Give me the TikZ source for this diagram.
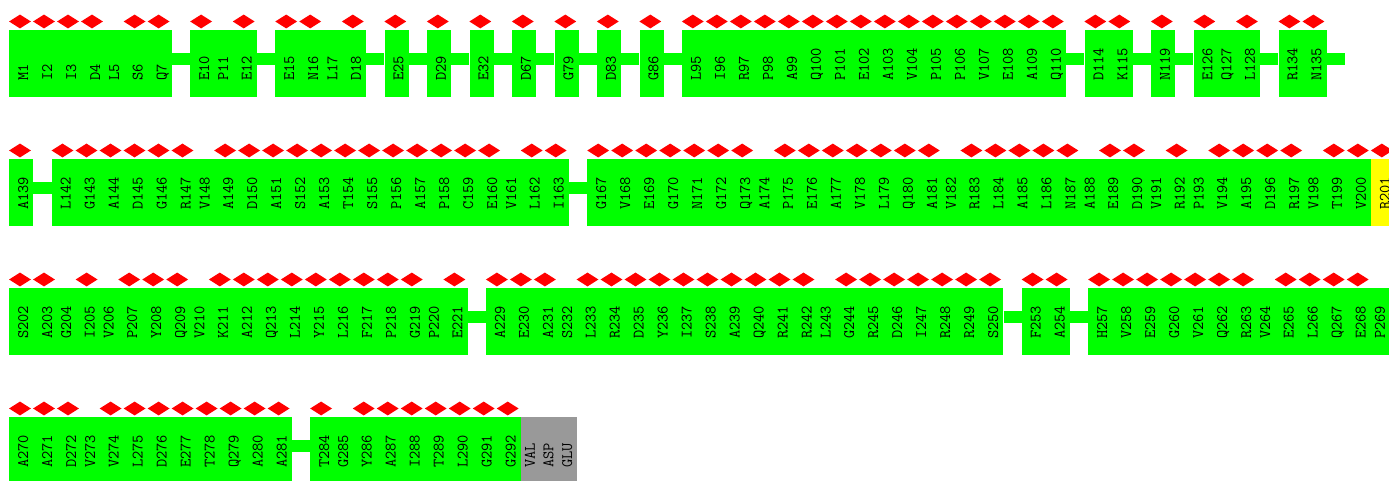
\documentclass[tikz,border=0pt]{standalone}
\usepackage{fontspec}
\usetikzlibrary{shapes.geometric}
\pgfdeclarelayer{background}
\pgfsetlayers{background,main}
\definecolor{dgreen}{RGB}{0,255,0}
\definecolor{dred}{RGB}{255,0,0}
\definecolor{dyellow}{RGB}{255,255,0}
\definecolor{dgray}{RGB}{153,153,153}
\newdimen\cx
\newdimen\bx
\def\rowT{30pt}
\def\curbox{}
\tikzset{
 lbl/.style={rotate=90, anchor=base west, inner sep=0pt, font=\fontsize{16}{16}\selectfont\ttfamily},
 dia/.style={diamond, fill=dred, minimum width=22pt, minimum height=14pt, inner sep=0pt},
 seg/.style={rectangle, inner sep=0pt, minimum height=66.7pt, anchor=north west},
 link/.style={draw=dgreen, line width=11.5pt}
}
\newcommand\RowStart[1]{\global\cx=9pt\relax\gdef\rowT{#1}}
\newcommand\Bx[1]{\global\bx=\cx\relax\gdef\curbox{#1}}
\newcommand\Ex[1][dgreen]{%
  \begin{pgfonlayer}{background}
  \node[seg, fill=#1, minimum width=\the\cx-\the\bx] (\curbox) at (\the\bx, -\rowT) {};
  \end{pgfonlayer}}
\newcommand\Rd[1]{%
  \node[dia] (d#1) at (\the\cx+11pt, -\rowT+8.5pt) {};
  \node[lbl] (r#1) at (\the\cx+19pt, -\rowT-51pt) {#1};
  \global\advance\cx by 24pt\relax}
\newcommand\Rp[1]{%
  \node[lbl] (r#1) at (\the\cx+14.1pt, -\rowT-51pt) {#1};
  \global\advance\cx by 18.6pt\relax}
\newcommand\Gp{\global\advance\cx by 18.5pt\relax}
\newcommand\Lnk[2]{%
  \begin{pgfonlayer}{background}
  \draw[link] ([yshift=-29pt]#1.north east) -- ([yshift=-29pt]#2.north west);
  \end{pgfonlayer}}
\begin{document}
\begin{tikzpicture}
\useasboundingbox (0,0) rectangle (1389pt,-481pt);
% ---------------- row 1
\RowStart{30pt}
\Bx{b1}\Rd{M1}\Rd{I2}\Rd{I3}\Rd{D4}\Rp{L5}\Rd{S6}\Rd{Q7}\Ex\Gp
\Bx{b2}\Rd{E10}\Rp{P11}\Rd{E12}\Ex\Gp
\Bx{b3}\Rd{E15}\Rd{N16}\Rp{L17}\Rd{D18}\Ex\Gp
\Bx{b4}\Rd{E25}\Ex\Gp
\Bx{b5}\Rd{D29}\Ex\Gp
\Bx{b6}\Rd{E32}\Ex\Gp
\Bx{b7}\Rd{D67}\Ex\Gp
\Bx{b8}\Rd{G79}\Ex\Gp
\Bx{b9}\Rd{D83}\Ex\Gp
\Bx{b10}\Rd{G86}\Ex\Gp
\Bx{b11}\Rd{L95}\Rd{I96}\Rd{R97}\Rd{P98}\Rd{A99}\Rd{Q100}\Rd{P101}\Rd{E102}\Rd{A103}\Rd{V104}\Rd{P105}\Rd{P106}\Rd{V107}\Rd{E108}\Rd{A109}\Rd{Q110}\Ex\Gp
\Bx{b12}\Rd{D114}\Rd{K115}\Ex\Gp
\Bx{b13}\Rd{N119}\Ex\Gp
\Bx{b14}\Rd{E126}\Rp{Q127}\Rd{L128}\Ex\Gp
\Bx{b15}\Rd{R134}\Rd{N135}\Ex\Gp
\coordinate (e1) at (\the\cx, -\rowT);
\Lnk{b1}{b2}\Lnk{b2}{b3}\Lnk{b3}{b4}\Lnk{b4}{b5}\Lnk{b5}{b6}\Lnk{b6}{b7}\Lnk{b7}{b8}
\Lnk{b8}{b9}\Lnk{b9}{b10}\Lnk{b10}{b11}\Lnk{b11}{b12}\Lnk{b12}{b13}\Lnk{b13}{b14}\Lnk{b14}{b15}\Lnk{b15}{e1}
% ---------------- row 2
\RowStart{159pt}
\Bx{b16}\Rd{A139}\Ex\Gp
\Bx{b17}\Rd{L142}\Rd{G143}\Rd{A144}\Rd{D145}\Rd{G146}\Rd{R147}\Rp{V148}\Rd{A149}\Rd{D150}\Rd{A151}\Rd{S152}\Rd{A153}\Rd{T154}\Rd{S155}\Rd{P156}\Rd{A157}\Rd{P158}\Rd{C159}\Rd{E160}\Rp{V161}\Rd{L162}\Rd{I163}\Ex\Gp
\Bx{b18}\Rd{G167}\Rd{V168}\Rd{E169}\Rd{G170}\Rd{N171}\Rd{G172}\Rd{Q173}\Rp{A174}\Rd{P175}\Rd{E176}\Rd{A177}\Rd{V178}\Rd{L179}\Rd{Q180}\Rd{A181}\Rp{V182}\Rd{R183}\Rd{L184}\Rd{A185}\Rd{L186}\Rd{N187}\Rp{A188}\Rd{E189}\Rd{D190}\Rp{V191}\Rd{R192}\Rp{P193}\Rd{V194}\Rd{A195}\Rd{D196}\Rd{R197}\Rp{V198}\Rd{T199}\Rd{V200}\Ex
\Bx{b19}\Rd{R201}\Ex[dyellow]
\Lnk{b16}{b17}\Lnk{b17}{b18}
% ---------------- row 3
\RowStart{288pt}
\Bx{b20}\Rd{S202}\Rd{A203}\Rp{G204}\Rd{I205}\Rp{V206}\Rd{P207}\Rd{Y208}\Rd{Q209}\Rp{V210}\Rd{K211}\Rd{A212}\Rd{Q213}\Rd{L214}\Rd{Y215}\Rd{L216}\Rd{F217}\Rd{P218}\Rd{G219}\Rp{P220}\Rd{E221}\Ex\Gp
\Bx{b21}\Rd{A229}\Rd{E230}\Rd{A231}\Rp{S232}\Rd{L233}\Rd{R234}\Rd{D235}\Rd{Y236}\Rd{I237}\Rd{S238}\Rd{A239}\Rd{Q240}\Rd{R241}\Rd{R242}\Rp{L243}\Rd{G244}\Rd{R245}\Rd{D246}\Rd{I247}\Rd{R248}\Rd{R249}\Rd{S250}\Ex\Gp
\Bx{b22}\Rd{F253}\Rd{A254}\Ex\Gp
\Bx{b23}\Rd{H257}\Rd{V258}\Rd{E259}\Rd{G260}\Rd{V261}\Rd{Q262}\Rd{R263}\Rp{V264}\Rd{E265}\Rd{L266}\Rd{Q267}\Rd{E268}\Rp{P269}\Ex
\Lnk{b20}{b21}\Lnk{b21}{b22}\Lnk{b22}{b23}
% ---------------- row 4
\RowStart{417pt}
\Bx{b24}\Rd{A270}\Rd{A271}\Rd{D272}\Rp{V273}\Rd{V274}\Rd{L275}\Rd{D276}\Rd{E277}\Rd{T278}\Rd{Q279}\Rd{A280}\Rd{A281}\Ex\Gp
\Bx{b25}\Rd{T284}\Rp{G285}\Rd{Y286}\Rd{A287}\Rd{I288}\Rd{T289}\Rd{L290}\Rd{G291}\Rd{G292}\Ex
\Bx{b26}\Rp{VAL}\Rp{ASP}\Rp{GLU}\Ex[dgray]
\Lnk{b24}{b25}
\end{tikzpicture}
\end{document}
